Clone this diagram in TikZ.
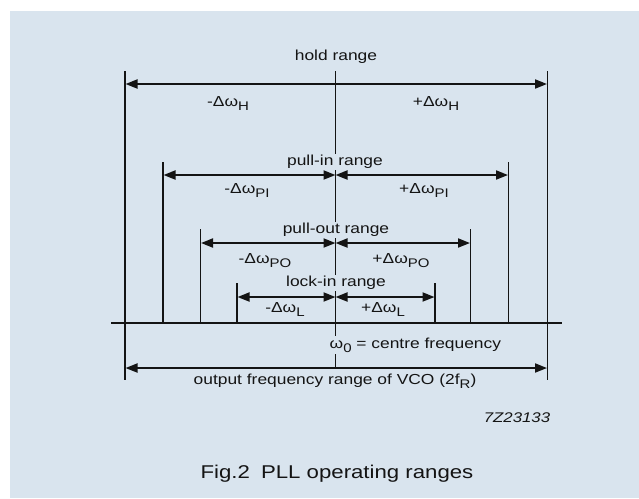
\documentclass[tikz,border=0pt]{standalone}
\usepackage{fontspec}
\setmainfont{Liberation Sans}
\newfontfamily\widesans[FakeStretch=1.2]{Liberation Sans}
\usetikzlibrary{arrows.meta}
\definecolor{bg}{HTML}{D9E4EE}
\definecolor{ink}{HTML}{141414}
\newcommand{\sbx}[1]{\raisebox{-4pt}{\fontsize{12.5}{13}\selectfont #1}}
\tikzset{
  lbl/.style={font=\widesans\fontsize{14.5}{16}\selectfont, text=ink, inner sep=1pt},
  rng/.style={lbl, fill=bg, inner sep=1.5pt},
  lim/.style={draw=ink, line width=1.3pt},
  dim/.style={draw=ink, line width=1.8pt, {Triangle[length=12pt,width=9pt]}-{Triangle[length=12pt,width=9pt]}},
}
\begin{document}
\begin{tikzpicture}[x=1pt,y=-1pt]
\useasboundingbox (0,0) rectangle (639,498);
\fill[white] (0,0) rectangle (639,498);
\fill[bg] (10,11) rectangle (639,498);
% coordinates
\coordinate (ctop) at (335.5,71);
\coordinate (cbot) at (335.5,368);
\coordinate (Lt) at (125,71); \coordinate (Lb) at (125,380);
\coordinate (Rt) at (547.5,71); \coordinate (Rb) at (547.5,380);
\coordinate (PIl) at (163,162); \coordinate (PIlb) at (163,323);
\coordinate (PIr) at (508.5,162); \coordinate (PIrb) at (508.5,323);
\coordinate (POl) at (200.5,229); \coordinate (POlb) at (200.5,323);
\coordinate (POr) at (470.5,229); \coordinate (POrb) at (470.5,323);
\coordinate (LIl) at (237,283); \coordinate (LIlb) at (237,323);
\coordinate (LIr) at (435,283); \coordinate (LIrb) at (435,323);
\coordinate (bl) at (111,323); \coordinate (br) at (562,323);
% limit lines
\draw[lim] (ctop) -- (cbot);
\draw[lim] (Lt) -- (Lb);
\draw[lim] (Rt) -- (Rb);
\draw[lim] (PIl) -- (PIlb);
\draw[lim] (PIr) -- (PIrb);
\draw[lim] (POl) -- (POlb);
\draw[lim] (POr) -- (POrb);
\draw[lim] (LIl) -- (LIlb);
\draw[lim] (LIr) -- (LIrb);
\draw[lim] (bl) -- (br);
% arrow ends
\coordinate (h1) at (125.5,84); \coordinate (h2) at (547,84);
\coordinate (p1) at (163.5,175); \coordinate (pc) at (335.5,175); \coordinate (p2) at (508,175);
\coordinate (o1) at (201,243); \coordinate (oc) at (335.5,243); \coordinate (o2) at (470,243);
\coordinate (l1) at (237.5,297); \coordinate (lc) at (335.5,297); \coordinate (l2) at (434.5,297);
\coordinate (v1) at (125.5,368); \coordinate (v2) at (547,368);
\draw[dim] (h1) -- (h2);
\draw[dim] (p1) -- (pc);
\draw[dim] (pc) -- (p2);
\draw[dim] (o1) -- (oc);
\draw[dim] (oc) -- (o2);
\draw[dim] (l1) -- (lc);
\draw[dim] (lc) -- (l2);
\draw[dim] (v1) -- (v2);
% labels
\node[lbl] (hold) at (336,57) {hold range};
\node[lbl] (hm) at (228,104) {-Δω\sbx{H}};
\node[lbl] (hp) at (436,104) {+Δω\sbx{H}};
\node[rng] (pin) at (335,162) {pull-in range};
\node[lbl] (pim) at (247,191) {-Δω\sbx{PI}};
\node[lbl] (pip) at (424,191) {+Δω\sbx{PI}};
\node[rng] (pout) at (336,230) {pull-out range};
\node[lbl] (pom) at (265,261) {-Δω\sbx{PO}};
\node[lbl] (pop) at (401,261) {+Δω\sbx{PO}};
\node[rng] (lin) at (336,283) {lock-in range};
\node[lbl] (lm) at (285,310) {-Δω\sbx{L}};
\node[lbl] (lp) at (383,310) {+Δω\sbx{L}};
\node[rng, anchor=west] (w0) at (328,345) {ω\sbx{0} = centre frequency};
\node[lbl] (vco) at (335,381) {output frequency range of VCO (2f\sbx{R})};
\node[lbl, font=\widesans\fontsize{14}{15}\selectfont\itshape] (code) at (517,418) {7Z23133};
\node[lbl, font=\widesans\fontsize{18.5}{20}\selectfont] (cap) at (337,474) {Fig.2\hspace{0.6em}PLL operating ranges};
\end{tikzpicture}
\end{document}
